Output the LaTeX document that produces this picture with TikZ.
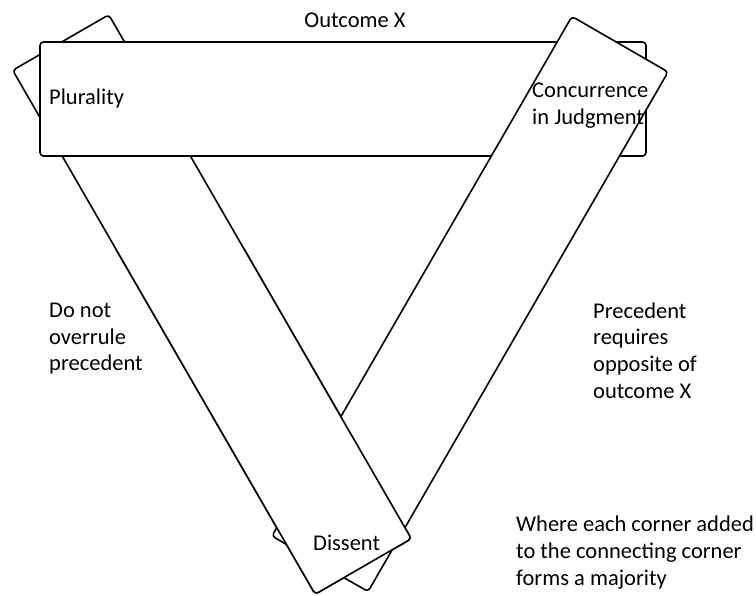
\documentclass[tikz,border=0pt]{standalone}
\usepackage{fontspec}
\setmainfont{Carlito}
\begin{document}
\begin{tikzpicture}[x=1pt,y=-1pt,
  band/.style={draw=black, line width=1.6pt, fill=white, rounded corners=3.5pt, rectangle, inner sep=0pt},
  lbl/.style={inner sep=0pt, align=left, font=\fontsize{22.5}{27}\selectfont}]
\useasboundingbox (0,0) rectangle (756,596);
% left band (behind bar)
\node[band, rotate=-60, minimum width=605pt, minimum height=111pt] (leftband) at (212,304.5) {};
% horizontal bar
\node[band, minimum width=606pt, minimum height=114pt] (bar) at (343,99) {};
% right band (over bar)
\node[band, rotate=60, minimum width=600pt, minimum height=111pt] (rightband) at (470,304) {};
% left band again over right band at bottom
\begin{scope}
\clip (0,250) rectangle (756,600);
\node[band, rotate=-60, minimum width=605pt, minimum height=111pt] (leftfront) at (212,304.5) {};
\end{scope}
% labels (base anchor = baseline of last line)
\node[lbl, anchor=base] (outcome) at (355,28) {Outcome X};
\node[lbl, anchor=base west] (plur) at (49,105) {Plurality};
\node[lbl, anchor=base west] (conc) at (532,125) {Concurrence\\in Judgment};
\node[lbl, anchor=base west] (donot) at (49,371) {Do not\\overrule\\precedent};
\node[lbl, anchor=base west] (prec) at (593,399) {Precedent\\requires\\opposite of\\outcome X};
\node[lbl, anchor=base west] (where) at (516,585) {Where each corner added\\to the connecting corner\\forms a majority};
\node[lbl, anchor=base west] (dissent) at (313,550) {Dissent};
\end{tikzpicture}
\end{document}
